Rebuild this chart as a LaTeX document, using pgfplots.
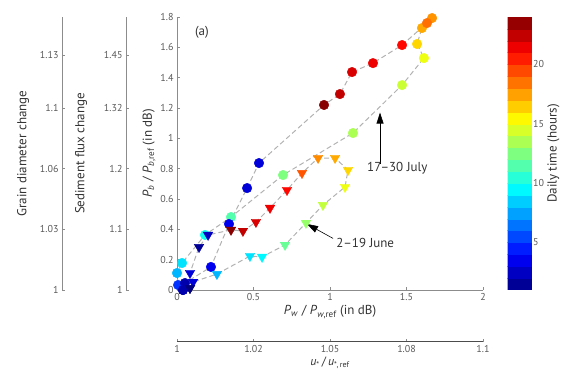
\documentclass[border=0pt]{standalone}
\usepackage{pgfplots}
\pgfplotsset{compat=1.18}
\usepackage{fontspec}
\setmainfont{PT Sans}
\usetikzlibrary{arrows.meta}
\definecolor{axgray}{gray}{0.55}
\definecolor{tkgray}{gray}{0.35}
\definecolor{lbgray}{gray}{0.2}
\pgfplotsset{
  /pgf/number format/assume math mode=true,
  every axis/.append style={
    scale only axis,
    tick label style={font=\fontsize{10}{11}\selectfont, text=tkgray},
    label style={font=\fontsize{13}{15}\selectfont, text=lbgray},
    axis line style={axgray, line width=0.8pt},
    tick style={axgray, line width=0.6pt},
    tick align=inside,
    major tick length=3pt,
  },
}
\pgfplotstableread{
x y h
0.039 0.000 2
0.007 0.033 5
0.000 0.112 8
0.033 0.178 9
0.183 0.363 10
0.353 0.481 11.5
0.693 0.758 12.5
1.150 1.035 13.5
1.471 1.351 14.2
1.614 1.529 15
1.569 1.622 16.3
1.601 1.727 17.3
1.667 1.793 17.8
1.634 1.760 18.6
1.471 1.615 21
1.281 1.496 21.5
1.144 1.437 22
1.065 1.292 22.5
0.961 1.220 23.8
0.536 0.837 3
0.458 0.672 3
0.340 0.435 3.5
0.222 0.152 3.5
0.052 0.046 2
0.039 0.000 2
}\july
\pgfplotstableread{
x y h
0.085 0.013 1
0.105 0.053 3
0.261 0.105 8
0.477 0.224 9
0.556 0.218 9.5
0.706 0.297 12
0.843 0.442 13
0.954 0.560 14
1.098 0.679 15
1.118 0.791 16.3
1.033 0.870 17.3
0.922 0.870 18
0.817 0.771 19.2
0.719 0.659 21
0.608 0.541 21.5
0.516 0.448 22
0.431 0.389 22.5
0.353 0.396 23.8
0.203 0.363 2.5
0.144 0.283 1.5
0.085 0.112 3
0.085 0.013 1
}\june
\begin{document}
\begin{tikzpicture}
\useasboundingbox (0,0) rectangle (566pt,369pt);
% grain diameter axis
\begin{axis}[
  at={(62pt,79pt)}, anchor=south west,
  width=1pt, height=273pt,
  xmin=0, xmax=1, ymin=0, ymax=1.8,
  axis x line=none, axis y line*=left,
  ytick={0,0.4,0.8,1.2,1.55}, yticklabels={1,1.03,1.06,1.1,1.13},
  ylabel={Grain diameter change}, ylabel shift=4pt,
]
\end{axis}
% sediment flux axis
\begin{axis}[
  at={(126pt,79pt)}, anchor=south west,
  width=1pt, height=273pt,
  xmin=0, xmax=1, ymin=0, ymax=1.8,
  axis x line=none, axis y line*=left,
  ytick={0,0.4,0.8,1.2,1.55}, yticklabels={1,1.1,1.2,1.32,1.45},
  ylabel={Sediment flux change}, ylabel shift=10pt,
]
\end{axis}
% u* axis
\begin{axis}[
  at={(177pt,27pt)}, anchor=south west,
  width=306pt, height=1pt,
  xmin=0, xmax=2, ymin=0, ymax=1,
  axis y line=none, axis x line*=bottom,
  axis line style={black!70, line width=1pt},
  xtick={0,0.5,1,1.5,2}, xticklabels={1,1.02,1.05,1.08,1.1},
  xlabel={\textit{u}\textsubscript{*}\,/\,\textit{u}\textsubscript{*,\,ref}},
  xlabel style={font=\fontsize{12}{13}\selectfont, at={(axis description cs:0.5,0)}, anchor=center, yshift=-21pt},
]
\end{axis}
% main axis
\begin{axis}[
  at={(177pt,79pt)}, anchor=south west,
  width=306pt, height=273pt,
  xmin=0, xmax=2, ymin=0, ymax=1.8,
  axis x line*=bottom, axis y line*=left,
  xtick={0,0.5,1,1.5,2},
  ytick={0,0.2,0.4,0.6,0.8,1,1.2,1.4,1.6,1.8},
  xlabel={\textit{P}\textsubscript{\textit{w}} / \textit{P}\textsubscript{\textit{w},ref} (in dB)},
  ylabel={\textit{P}\textsubscript{\textit{b}} / \textit{P}\textsubscript{\textit{b},ref} (in dB)},
  ylabel shift=-2pt,
  xlabel shift=-2pt,
  clip=false,
  colormap/jet,
  point meta min=1, point meta max=24,
  colorbar sampled,
  colorbar style={
    samples=24,
    at={(parent axis.north east)}, anchor=north west, xshift=16pt,
    width=25pt, height=273pt,
    ytick={5,10,15,20},
    yticklabel pos=right,
    yticklabel style={xshift=-3pt},
    axis line style={draw=none},
    tick style={draw=none},
    ylabel={Daily time (hours)},
    ylabel style={at={(axis description cs:1.84,0.5)}, anchor=center, rotate=0},
  },
]
\addplot[no marks, gray!60, line width=1pt, dash pattern=on 5pt off 3pt] table[x=x,y=y] {\july};
\addplot[no marks, gray!60, line width=1pt, dash pattern=on 5pt off 3pt] table[x=x,y=y] {\june};
\addplot[scatter, only marks, mark=*, mark size=4.8pt,
  scatter src=explicit,
  scatter/use mapped color={draw=mapped color, fill=mapped color}]
  table[x=x,y=y,meta=h] {\july};
\addplot[scatter, only marks, mark=triangle*, mark size=5.5pt,
  every mark/.append style={rotate=180},
  scatter src=explicit,
  scatter/use mapped color={draw=mapped color, fill=mapped color}]
  table[x=x,y=y,meta=h] {\june};
\node[font=\fontsize{13}{15}\selectfont, text=lbgray] at (axis cs:0.163,1.70) {(a)};
\draw[-{Triangle[length=11pt,width=7pt]}, black, line width=0.6pt] (axis cs:1.327,0.83) -- (axis cs:1.327,1.17);
\node[font=\fontsize{13}{15}\selectfont, text=lbgray] at (axis cs:1.44,0.80) {17–30 July};
\draw[-{Triangle[length=11pt,width=7pt]}, black, line width=0.6pt] (axis cs:1.02,0.34) -- (axis cs:0.85,0.435);
\node[font=\fontsize{13}{15}\selectfont, text=lbgray] at (axis cs:1.23,0.31) {2–19 June};
\end{axis}
\end{tikzpicture}
\end{document}
